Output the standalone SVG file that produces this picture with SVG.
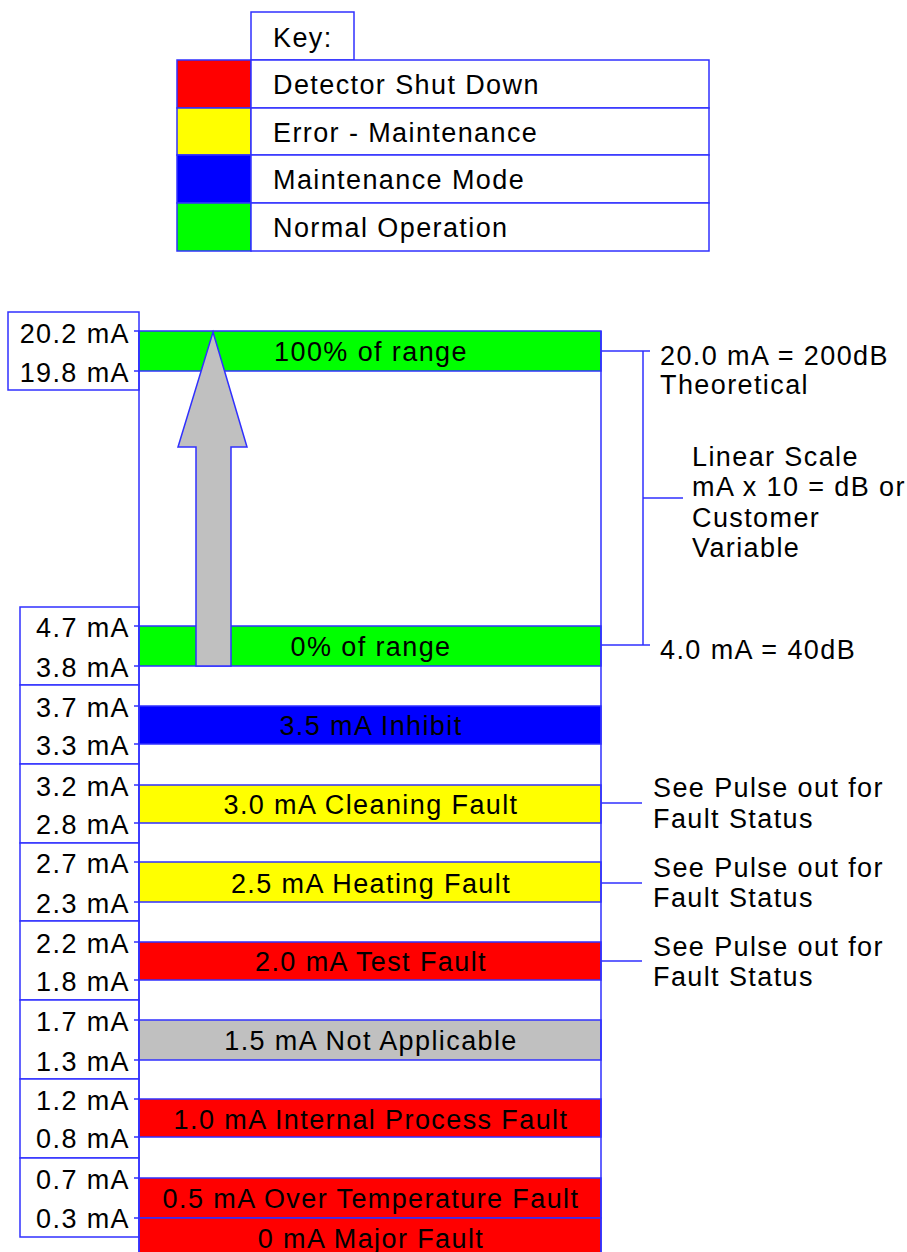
<svg xmlns="http://www.w3.org/2000/svg" width="907" height="1252" viewBox="0 0 907 1252">
<style>
text{font-family:"Liberation Sans",Arial,sans-serif;font-size:27px;fill:#000;letter-spacing:1.4px}
.ln{stroke:#3030ff;stroke-width:1.5;fill:none}
.box{stroke:#3030ff;stroke-width:1.5;fill:#fff}
.band{stroke:#3030ff;stroke-width:1.5}
.r{fill:#ff0000}.y{fill:#ffff00}.b{fill:#0000ff}.g{fill:#00ff00}.gr{fill:#c0c0c0}
.c{text-anchor:middle}.e{text-anchor:end}
</style>
<rect width="907" height="1252" fill="#fff"/>
<g id="key">
<rect class="box" x="251" y="12" width="103" height="48"/>
<text x="273" y="47">Key:</text>
<rect class="band r" x="177" y="60" width="74" height="48"/>
<rect class="band y" x="177" y="108" width="74" height="47"/>
<rect class="band b" x="177" y="155" width="74" height="48"/>
<rect class="band g" x="177" y="203" width="74" height="48"/>
<rect class="box" x="251" y="60" width="458" height="48"/>
<rect class="box" x="251" y="108" width="458" height="47"/>
<rect class="box" x="251" y="155" width="458" height="48"/>
<rect class="box" x="251" y="203" width="458" height="48"/>
<text x="273" y="94">Detector Shut Down</text>
<text x="273" y="142">Error - Maintenance</text>
<text x="273" y="189">Maintenance Mode</text>
<text x="273" y="237">Normal Operation</text>
</g>
<g id="labels">
<rect class="box" x="8" y="312" width="131" height="78"/>
<text class="e" x="130" y="343">20.2 mA</text>
<text class="e" x="130" y="382">19.8 mA</text>
<rect class="box" x="20" y="607" width="119" height="78"/>
<rect class="box" x="20" y="685" width="119" height="79"/>
<rect class="box" x="20" y="764" width="119" height="79"/>
<rect class="box" x="20" y="843" width="119" height="78"/>
<rect class="box" x="20" y="921" width="119" height="79"/>
<rect class="box" x="20" y="1000" width="119" height="79"/>
<rect class="box" x="20" y="1079" width="119" height="79"/>
<rect class="box" x="20" y="1158" width="119" height="79"/>
<text class="e" x="130" y="637">4.7 mA</text>
<text class="e" x="130" y="677">3.8 mA</text>
<text class="e" x="130" y="717">3.7 mA</text>
<text class="e" x="130" y="755">3.3 mA</text>
<text class="e" x="130" y="796">3.2 mA</text>
<text class="e" x="130" y="834">2.8 mA</text>
<text class="e" x="130" y="873">2.7 mA</text>
<text class="e" x="130" y="913">2.3 mA</text>
<text class="e" x="130" y="953">2.2 mA</text>
<text class="e" x="130" y="991">1.8 mA</text>
<text class="e" x="130" y="1031">1.7 mA</text>
<text class="e" x="130" y="1071">1.3 mA</text>
<text class="e" x="130" y="1110">1.2 mA</text>
<text class="e" x="130" y="1148">0.8 mA</text>
<text class="e" x="130" y="1189">0.7 mA</text>
<text class="e" x="130" y="1228">0.3 mA</text>
</g>
<g id="bands">
<rect class="band g" x="139" y="331" width="462" height="40"/>
<rect class="band g" x="139" y="626" width="462" height="40"/>
<rect class="band b" x="139" y="706" width="462" height="38"/>
<rect class="band y" x="139" y="785" width="462" height="38"/>
<rect class="band y" x="139" y="862" width="462" height="40"/>
<rect class="band r" x="139" y="942" width="462" height="38"/>
<rect class="band gr" x="139" y="1020" width="462" height="40"/>
<rect class="band r" x="139" y="1099" width="462" height="38"/>
<rect class="band r" x="139" y="1178" width="462" height="40"/>
<rect class="band r" x="139" y="1218" width="462" height="40"/>
</g>
<g id="connectors">
<path class="ln" d="M139 331V1252M601 331V1252"/>
<path class="ln" d="M134 331H139M134 371H139M134 626H139M134 666H139M134 706H139M134 744H139M134 785H139M134 823H139M134 862H139M134 902H139M134 942H139M134 980H139M134 1020H139M134 1060H139M134 1099H139M134 1137H139M134 1178H139M134 1218H139"/>
<path class="ln" d="M601 351H650M643 351V645M601 645H650M643 498H683"/>
<path class="ln" d="M601 803H642M601 883H642M601 961H642"/>
</g>
<g id="arrow">
<polygon points="213,332 247,447 231,447 231,666 196,666 196,447 178,447" fill="#c0c0c0" stroke="#3030ff" stroke-width="1.5"/>
</g>
<g id="bandtext">
<text class="c" x="371" y="361">100% of range</text>
<text class="c" x="371" y="656">0% of range</text>
<text class="c" x="371" y="735">3.5 mA Inhibit</text>
<text class="c" x="371" y="814">3.0 mA Cleaning Fault</text>
<text class="c" x="371" y="893">2.5 mA Heating Fault</text>
<text class="c" x="371" y="971">2.0 mA Test Fault</text>
<text class="c" x="371" y="1050">1.5 mA Not Applicable</text>
<text class="c" x="371" y="1129">1.0 mA Internal Process Fault</text>
<text class="c" x="371" y="1208">0.5 mA Over Temperature Fault</text>
<text class="c" x="371" y="1248">0 mA Major Fault</text>
</g>
<g id="notes">
<text x="660" y="365">20.0 mA = 200dB</text>
<text x="660" y="394">Theoretical</text>
<text x="692" y="466">Linear Scale</text>
<text x="692" y="496">mA x 10 = dB or</text>
<text x="692" y="527">Customer</text>
<text x="692" y="557">Variable</text>
<text x="660" y="659">4.0 mA = 40dB</text>
<text x="653" y="797">See Pulse out for</text>
<text x="653" y="828">Fault Status</text>
<text x="653" y="877">See Pulse out for</text>
<text x="653" y="907">Fault Status</text>
<text x="653" y="956">See Pulse out for</text>
<text x="653" y="986">Fault Status</text>
</g>
</svg>
